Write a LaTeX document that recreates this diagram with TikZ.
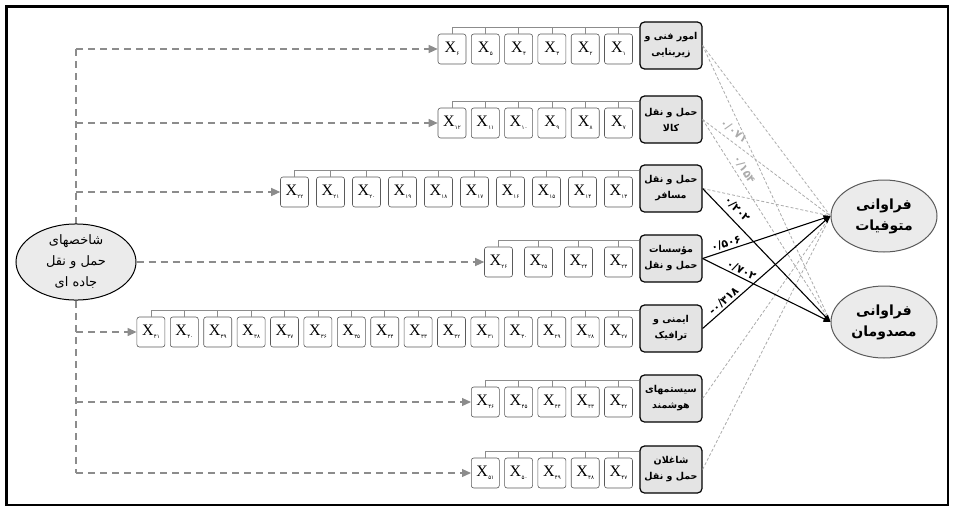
\documentclass[tikz,border=0pt]{standalone}
\usepackage{fontspec}
\setmainfont{Liberation Serif}
\newfontfamily\arabicfont[Script=Arabic]{DejaVu Sans}
\newfontfamily\digitfont{DejaVu Sans}
\TeXXeTstate=1
\usetikzlibrary{arrows.meta,shapes.geometric}
\newcommand\fa[1]{{\arabicfont\beginR #1\endR}}
% set each digit in its own box so that no reordering can occur
\def\dgs#1{\dgsi#1\relax}
\def\dgsi#1{\ifx#1\relax\else\hbox{#1}\expandafter\dgsi\fi}
\newcommand\xs[1]{X\kern0.3pt\raisebox{-3pt}{\digitfont\fontsize{5.5}{6}\selectfont\expandafter\dgs\expandafter{#1}}}
\definecolor{catfill}{HTML}{E4E4E4}
\definecolor{ellfill}{HTML}{EBEBEB}
\definecolor{dgray}{HTML}{8C8C8C}
\definecolor{lgray}{HTML}{ABABAB}
\definecolor{boxgray}{HTML}{5A5A5A}
\tikzset{
 xbox/.style={draw=boxgray, line width=0.6pt, fill=white, rounded corners=2.5pt, minimum width=28pt, minimum height=30pt, inner sep=0pt, font=\fontsize{16}{16}\selectfont},
 cat/.style={draw=black, line width=1.2pt, fill=catfill, rounded corners=4.5pt, minimum width=62pt, minimum height=47pt, inner sep=0pt, align=center, font=\bfseries\fontsize{9.5}{16}\selectfont},
 brk/.style={draw=dgray, line width=0.6pt},
 trunk/.style={draw=dgray, line width=1.2pt, dash pattern=on 7pt off 5pt},
 darr/.style={trunk, -{Triangle[length=9pt,width=8pt]}},
 blk/.style={draw=black, line width=1.1pt, -{Triangle[length=7pt,width=6pt]}},
 gdash/.style={draw=lgray, line width=0.8pt, dash pattern=on 3pt off 2pt},
 lab/.style={font=\digitfont\bfseries\fontsize{11}{11}\selectfont, inner sep=1.5pt},
 lell/.style={ellipse, draw=black, line width=1pt, fill=ellfill, minimum width=120pt, minimum height=68pt, inner sep=0pt, align=center, font=\fontsize{13}{21}\selectfont},
 rell/.style={ellipse, draw=boxgray, line width=1pt, fill=ellfill, minimum width=106pt, minimum height=72pt, inner sep=0pt, align=center, font=\bfseries\fontsize{14}{21}\selectfont}
}
\newcommand\xrow[6]{%
 \node[cat] (c#1) at (671,#2+23.5) {#6};
 \foreach \k/\lbl in {#4}{\node[xbox] (x#1-\k) at ({618.5-\k*#3},#2+27) {\xs{\lbl}}; \draw[brk] (x#1-\k.north) -- ++(0,-7);}
 \coordinate (b#1) at (0,#2+5);
 \draw[brk] (x#1-#5.north |- b#1) -- (c#1.west |- b#1);
}
\begin{document}
\begin{tikzpicture}[x=1pt,y=-1pt]
\useasboundingbox (0,0) rectangle (954,507);
\draw[line width=2.5pt] (6.5,6.5) rectangle (948,505);

% rows
\xrow{1}{22}{33.3}{0/۱,1/۲,2/۳,3/۴,4/۵,5/۶}{5}{\fa{امور فنی و}\\\fa{زیربنایی}}
\xrow{2}{96}{33.3}{0/۷,1/۸,2/۹,3/۱۰,4/۱۱,5/۱۲}{5}{\fa{حمل و نقل}\\\fa{کالا}}
\xrow{3}{165}{36}{0/۱۳,1/۱۴,2/۱۵,3/۱۶,4/۱۷,5/۱۸,6/۱۹,7/۲۰,8/۲۱,9/۲۲}{9}{\fa{حمل و نقل}\\\fa{مسافر}}
\xrow{4}{235}{40}{0/۲۳,1/۲۴,2/۲۵,3/۲۶}{3}{\fa{مؤسسات}\\\fa{حمل و نقل}}
\xrow{5}{305}{33.4}{0/۲۷,1/۲۸,2/۲۹,3/۳۰,4/۳۱,5/۳۲,6/۳۳,7/۳۴,8/۳۵,9/۳۶,10/۳۷,11/۳۸,12/۳۹,13/۴۰,14/۴۱}{14}{\fa{ایمنی و}\\\fa{ترافیک}}
\xrow{6}{375}{33.3}{0/۴۲,1/۴۳,2/۴۴,3/۴۵,4/۴۶}{4}{\fa{سیستمهای}\\\fa{هوشمند}}
\xrow{7}{446}{33.3}{0/۴۷,1/۴۸,2/۴۹,3/۵۰,4/۵۱}{4}{\fa{شاغلان}\\\fa{حمل و نقل}}

% trunk
\coordinate (t1) at (76,49);
\coordinate (t2) at (76,123);
\coordinate (t3) at (76,192);
\coordinate (t5) at (76,332);
\coordinate (t6) at (76,402);
\coordinate (t7) at (76,473);
\draw[trunk] (t1) -- (t7);
\draw[darr] (t1) -- (x1-5.west);
\draw[darr] (t2) -- (x2-5.west);
\draw[darr] (t3) -- (x3-9.west);
\draw[darr] (t5) -- (x5-14.west);
\draw[darr] (t6) -- (x6-4.west);
\draw[darr] (t7) -- (x7-4.west);

\node[lell] (L) at (76,262) {\fa{شاخصهای}\\\fa{حمل و نقل}\\\fa{جاده ای}};
\draw[darr] (L.east) -- (x4-3.west);

% outcome ellipses
\node[rell] (E1) at (884,216) {\fa{فراوانی}\\\fa{متوفیات}};
\node[rell] (E2) at (884,322) {\fa{فراوانی}\\\fa{مصدومان}};

% gray dashed paths
\draw[gdash] (c1.east) -- (E1.west);
\draw[gdash] (c1.east) -- (E2.west);
\draw[gdash] (c2.east) -- node[lab, text=lgray, sloped, above=3pt, pos=0.2] {\dgs{۰/۰۷۱}} (E1.west);
\draw[gdash] (c2.east) -- node[lab, text=lgray, sloped, above=2pt, pos=0.27] {\dgs{۰/۱۵۴}} (E2.west);
\draw[gdash] (c3.east) -- (E1.west);
\draw[gdash] (c6.east) -- (E1.west);
\draw[gdash] (c7.east) -- (E1.west);

% significant paths
\draw[blk] (c3.east) -- node[lab, sloped, above=4pt, pos=0.21] {\dgs{۰/۲۰۲}} (E2.west);
\draw[blk] (c4.east) -- node[lab, sloped, above, pos=0.2] {\dgs{۰/۵۰۶}} (E1.west);
\draw[blk] (c4.east) -- node[lab, sloped, above, pos=0.28] {\dgs{۰/۷۰۲}} (E2.west);
\draw[blk] (c5.east) -- node[lab, sloped, above, pos=0.2] {\dgs{-۰/۳۱۸}} (E1.west);
\end{tikzpicture}
\end{document}
